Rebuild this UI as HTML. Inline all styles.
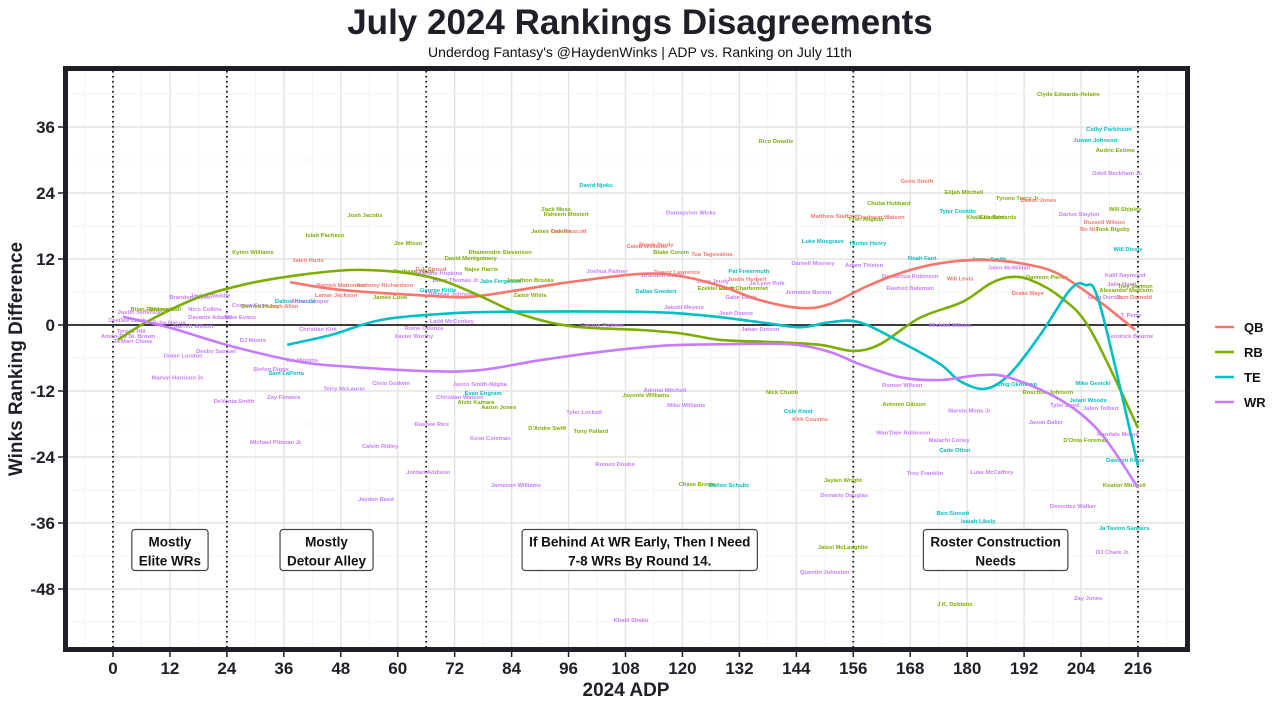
<!DOCTYPE html>
<html><head><meta charset="utf-8"><style>
body{margin:0;background:#fff;font-family:"Liberation Sans",sans-serif;}
svg text{font-family:"Liberation Sans",sans-serif;}
</style></head><body>
<svg id="chart" width="1280" height="707" viewBox="0 0 1280 707" xmlns="http://www.w3.org/2000/svg">
<text x="640" y="34" text-anchor="middle" font-size="35" font-weight="bold" fill="#1f1f2a">July 2024 Rankings Disagreements</text>
<text x="640" y="57" text-anchor="middle" font-size="14" fill="#111">Underdog Fantasy's @HaydenWinks | ADP vs. Ranking on July 11th</text>
<g id="grid"></g>
<g id="vlines"></g>
<g id="labels"></g>
<g id="curves"></g>
<g id="boxes"></g>
<rect x="65.5" y="68.5" width="1122" height="581" fill="none" stroke="#1f1f2a" stroke-width="5"/>
<g id="axes"></g>
<text x="626" y="696" text-anchor="middle" font-size="19" font-weight="bold" fill="#1f1f2a">2024 ADP</text>
<text transform="translate(22,359) rotate(-90)" text-anchor="middle" font-size="19" font-weight="bold" fill="#1f1f2a">Winks Ranking Difference</text>
<g id="legend"></g>
</svg>
<script>
const xTicks=[0,12,24,36,48,60,72,84,96,108,120,132,144,156,168,180,192,204,216];
const yTicks=[36,24,12,0,-12,-24,-36,-48];
const tierLines=[0,24,66,156,216];
const positions=["QB","RB","TE","WR"];
const colors={QB:"#F8766D",RB:"#7CAE00",TE:"#00BFC4",WR:"#C77CFF"};
const qbCurve=[[37.3,7.8],[47.8,6.4],[66.8,5.3],[75.2,5.1],[85.8,6.4],[96.3,7.8],[111,9.3],[119.5,8.9],[128,7.1],[136.4,4.5],[144.8,3.1],[151,3.8],[159.5,7.3],[168,10],[176.4,11.5],[184.8,11.8],[193.3,10.9],[199.6,9.1],[208,4.2],[215.4,-0.9]];
const rbCurve=[[1,-2.7],[7.8,0.9],[18.3,5.1],[28.9,7.6],[39.4,9.1],[50,10],[60.5,9.6],[69,8.2],[77.3,5.3],[85.8,2],[96.3,-0.2],[111,-0.9],[119.5,-1.5],[128,-2.7],[139,-3.1],[149,-3.6],[155.9,-4.7],[161.6,-3.5],[170,1.3],[179,4.2],[184.8,7.5],[189,8.7],[193.3,8.2],[199.6,5.1],[206,-0.9],[216,-18.7]];
const teCurve=[[36.7,-3.6],[46,-1.8],[56.3,0.9],[69,2],[81.6,2.4],[111,2.4],[123.7,1.8],[136.4,0.5],[144.8,-0.4],[151,0.5],[157.3,0.5],[166,-3.1],[174.3,-7.1],[178.5,-10.2],[183.8,-11.6],[189,-8.9],[195.4,-1.8],[201.7,6.4],[204.8,7.3],[208,3.6],[216,-25.6]];
const wrCurve=[[2.1,1.5],[12,-0.5],[24.7,-3.8],[39.4,-6.7],[50,-7.6],[66.8,-8.4],[77.3,-8.2],[90,-6.4],[102.6,-4.9],[115.3,-3.8],[128,-3.5],[142.7,-3.5],[151,-4.9],[157.3,-7.1],[166,-9.5],[174.3,-10],[183,-9.1],[189,-9.6],[199.6,-13.6],[208,-19.5],[216,-29.6]];
const players=[
["Clyde Edwards-Helaire","RB",201.3,42],["Rico Dowdle","RB",139.7,33.5],["Colby Parkinson","TE",209.9,35.6],["Juwan Johnson","TE",207,33.6],["Audric Estime","RB",211.2,31.8],["Odell Beckham Jr.","WR",211.6,27.6],
["David Njoku","TE",101.8,25.5],["Geno Smith","QB",169.4,26.2],["Elijah Mitchell","RB",179.3,24.2],["Tyrone Tracy Jr.","RB",190.7,23.1],["Daniel Jones","QB",195,22.7],["Chuba Hubbard","RB",163.5,22.2],["Tyler Conklin","TE",178,20.7],["Will Shipley","RB",213.3,21.1],
["Zack Moss","RB",93.4,21.1],["Raheem Mostert","RB",95.5,20.2],["Josh Jacobs","RB",53.1,20],["Dontayvion Wicks","WR",121.8,20.5],["Matthew Stafford","QB",152,19.8],["Deshaun Watson","QB",161.9,19.6],["Tyler Allgeier","RB",158.7,19.3],["Khalil Herbert","RB",183.8,19.6],["Gus Edwards","RB",186.5,19.6],["Darius Slayton","WR",203.6,20.2],["Russell Wilson","QB",208.9,18.7],["Bo Nix","QB",205.7,17.5],["Tank Bigsby","RB",210.7,17.5],
["James Conner","RB",92.3,17.1],["Dak Prescott","QB",96.1,17.1],["Isiah Pacheco","RB",44.7,16.4],["Luke Musgrave","TE",149.6,15.3],["Hunter Henry","TE",159.1,14.9],["Caleb Williams","QB",112.5,14.4],["Brock Purdy","QB",114.5,14.6],["Joe Mixon","RB",62.2,14.9],["Kyren Williams","RB",29.5,13.3],["Blake Corum","RB",117.6,13.3],["Tua Tagovailoa","QB",126.2,12.9],["Rhamondre Stevenson","RB",81.6,13.3],["Will Dissly","TE",213.9,13.8],
["David Montgomery","RB",75.4,12.2],["Jalen Hurts","QB",41.1,11.8],["Noah Fant","TE",170.5,12.2],["Darnell Mooney","WR",147.5,11.3],["Adam Thielen","WR",158.3,10.9],["Jonnu Smith","TE",184.6,12],["Jalen McMillian","WR",188.8,10.5],["Najee Harris","RB",77.6,10.2],["Rachaad White","RB",63.4,9.8],["DeAndre Hopkins","WR",68.5,9.5],["C.J. Stroud","QB",67,10.2],["Joshua Palmer","WR",104.1,9.8],["Trevor Lawrence","QB",118.9,9.6],["Pat Freiermuth","TE",134,9.8],["Demarcus Robinson","WR",168,8.9],["Will Levis","QB",178.5,8.5],["Dameon Pierce","RB",196.8,8.7],["Kalif Raymond","WR",213.3,9.1],
["Brian Thomas Jr.","WR",72.3,8.2],["Brandon Cooks","WR",115.9,9.1],["Jake Ferguson","TE",81.6,8],["Jonathon Brooks","RB",87.9,8.2],["Justin Herbert","QB",133.6,8.4],["Ja'Lynn Polk","WR",137.8,7.6],["Jalin Hyatt","WR",212.6,7.5],["Trey Sermon","RB",215.4,7.1],["Alexander Mattison","RB",213.5,6.4],["Jerry Jeudy","WR",126.4,8],["Ezekiel Elliott","RB",127.1,6.7],["Zach Charbonnet","RB",133,6.7],["Patrick Mahomes","QB",48,7.3],["Anthony Richardson","QB",57.3,7.3],["Rashod Bateman","WR",168,6.7],["Jermaine Burton","WR",146.5,6],
["Lamar Jackson","QB",47,5.5],["George Kittle","TE",68.5,6.4],["Diontae Johnson","WR",71.4,5.6],["Zamir White","RB",87.9,5.5],["Dallas Goedert","TE",114.4,6.2],["Gabe Davis","WR",132.4,5.1],["Drake Maye","QB",192.8,5.8],["Brandon Aiyuk","WR",16.2,5.1],["Jaylen Waddle","WR",20.5,5.4],["James Cook","RB",58.4,5.1],["Greg Dortch","WR",209,5.1],["Sam Darnold","QB",215.2,5.1],
["Cooper Kupp","WR",28.9,3.6],["Derrick Henry","RB",31,3.5],["Josh Allen","QB",36,3.5],["Dalton Kincaid","TE",38.4,4.4],["Amari Cooper","WR",41.5,4.4],["Jakobi Meyers","WR",120.3,3.3],["Josh Downs","WR",131.3,2.2],["Bijan Robinson","RB",8.2,2.9],["Breece Hall","RB",11,2.9],["Justin Jefferson","WR",5.7,2.4],["Nico Collins","WR",19.4,2.9],["A.T. Perry","WR",213.9,1.8],["Davante Adams","WR",20.4,1.5],["Mike Evans","WR",26.8,1.5],["CeeDee Lamb","WR",3,0.9],["Ladd McConkey","WR",71.4,0.7],["Puka Nacua","WR",11.8,0.5],["Garrett Wilson","WR",16.9,-0.2],
["Kendrick Bourne","WR",214.3,-2],["Tyreek Hill","WR",3.8,-1.1],["Christian Kirk","WR",43.2,-0.7],["Rome Odunze","WR",65.5,-0.5],["Xavier Worthy","WR",63.4,-2],["George Pickens","WR",103.1,0],["Jahan Dotson","WR",136.4,-0.7],["Michael Wilson","WR",176.4,0],["Amon-Ra St. Brown","WR",3.2,-2],["Ja'Marr Chase","WR",4.2,-2.9],["DJ Moore","WR",29.5,-2.7],["Deebo Samuel","WR",21.7,-4.7],["Drake London","WR",14.8,-5.5],["Tee Higgins","WR",39.8,-6.4],["Stefon Diggs","WR",33.3,-8],["Sam LaPorta","TE",36.5,-8.7],["Marvin Harrison Jr.","WR",13.7,-9.5],
["Roman Wilson","WR",166.3,-10.9],["Chris Godwin","WR",58.6,-10.5],["Jaxon Smith-Njigba","WR",77.3,-10.7],["Adonai Mitchell","WR",116.3,-11.8],["Chig Okonkwo","TE",190.5,-10.7],["Mike Gesicki","TE",206.5,-10.5],["Terry McLaurin","WR",48.7,-11.5],["Evan Engram","TE",78,-12.4],["Nick Chubb","RB",141,-12.2],["Javonte Williams","RB",112.3,-12.7],["Christian Watson","WR",73.1,-13.1],["Roschon Johnson","RB",197,-12.2],["Jelani Woods","TE",205.5,-13.6],["Tyler Boyd","WR",200.6,-14.5],["Antonio Gibson","RB",166.7,-14.4],["Alvin Kamara","RB",76.5,-14],["Zay Flowers","WR",36,-13.1],["DeVonta Smith","WR",25.5,-13.8],["Aaron Jones","RB",81.3,-14.9],["Jalen Tolbert","WR",208.2,-15.1],["Mike Williams","WR",120.8,-14.5],["Marvin Mims Jr.","WR",180.6,-15.5],["Cole Kmet","TE",144.4,-15.6],["Tyler Lockett","WR",99.3,-15.8],["Kirk Cousins","QB",146.9,-17.1],
["Rashee Rice","WR",67.2,-18],["Javon Baker","WR",196.6,-17.6],["D'Andre Swift","RB",91.5,-18.7],["Tony Pollard","RB",100.7,-19.3],["Wan'Dale Robinson","WR",166.5,-19.5],["Rondale Moore","WR",211.8,-19.8],["Keon Coleman","WR",79.5,-20.5],["Michael Pittman Jr.","WR",34.4,-21.3],["Malachi Corley","WR",176.2,-20.9],["D'Onta Foreman","RB",205,-20.9],["Calvin Ridley","WR",56.3,-22],["Cade Otton","TE",177.4,-22.7],["Dawson Knox","TE",213.3,-24.5],["Romeo Doubs","WR",105.8,-25.3],["Jordan Addison","WR",66.4,-26.7],["Troy Franklin","WR",171.1,-26.9],["Luke McCaffrey","WR",185.2,-26.7],
["Chase Brown","RB",123.1,-28.9],["Dalton Schultz","TE",129.8,-29.1],["Jameson Williams","WR",84.9,-29.1],["Jaylen Wright","RB",153.8,-28.2],["Keaton Mitchell","RB",213.1,-29.1],["Demario Douglas","WR",154.1,-30.9],["Jayden Reed","WR",55.4,-31.6],["Devontez Walker","WR",202.3,-32.9],["Ben Sinnott","TE",177,-34.2],["Isaiah Likely","TE",182.3,-35.6],["Ja'Tavion Sanders","TE",213.1,-36.9],["Jaleel McLaughlin","RB",153.8,-40.4],["DJ Chark Jr.","WR",210.7,-41.3],["Quentin Johnston","WR",150,-44.9],["J.K. Dobbins","RB",177.4,-50.7],["Zay Jones","WR",205.5,-49.6],["Khalil Shakir","WR",109.2,-53.6]];
const notes=[["Mostly|Elite WRs",12,-41],["Mostly|Detour Alley",45,-41],["If Behind At WR Early, Then I Need|7-8 WRs By Round 14.",111,-41],["Roster Construction|Needs",186,-41]];

const NS="http://www.w3.org/2000/svg";
const X0=113,XS=1025/216,Y0=325,YS=5.5,PL=68,PR=1185,PT=71,PB=647;
const sx=v=>X0+v*XS, sy=v=>Y0-v*YS;
function mk(tag,attrs,parent){const e=document.createElementNS(NS,tag);for(const k in attrs)e.setAttribute(k,attrs[k]);parent.appendChild(e);return e;}
const grid=document.getElementById('grid');
mk('rect',{x:PL,y:PT,width:PR-PL,height:PB-PT,fill:'#fff'},grid);
for(let v=-12;v<=228;v+=6){const x=sx(v);if(x<PL||x>PR)continue;const l=mk('line',{x1:x,x2:x,y1:PT,y2:PB,stroke:v%12===0?'#e3e3e3':'#f0f0f0','stroke-width':v%12===0?1.4:0.8},grid);

}
for(let v=-60;v<=48;v+=6){const y=sy(v);if(y<PT||y>PB)continue;const l=mk('line',{x1:PL,x2:PR,y1:y,y2:y,stroke:v%12===0?'#e3e3e3':'#f0f0f0','stroke-width':v%12===0?1.4:0.8},grid);

}
const zl=mk('line',{x1:PL,x2:PR,y1:sy(0),y2:sy(0),stroke:'#000','stroke-width':1.6},grid);


const vl=document.getElementById('vlines');
tierLines.forEach(v=>{const l=mk('line',{x1:sx(v),x2:sx(v),y1:PT,y2:PB,stroke:'#111','stroke-width':1.8,'stroke-dasharray':'1.5 3.5'},vl);

});
const lab=document.getElementById('labels');
players.forEach(p=>{const t=mk('text',{x:sx(p[2]),y:sy(p[3])+2,'text-anchor':'middle','font-size':5.8,'font-weight':'bold',fill:colors[p[1]]},lab);t.textContent=p[0];

});
function pathFrom(pts){const P=pts.map(p=>[sx(p[0]),sy(p[1])]);let d='M'+P[0][0].toFixed(1)+','+P[0][1].toFixed(1);
for(let i=0;i<P.length-1;i++){const p0=P[i-1]||P[i],p1=P[i],p2=P[i+1],p3=P[i+2]||p2;
d+=' C'+(p1[0]+(p2[0]-p0[0])/6).toFixed(1)+','+(p1[1]+(p2[1]-p0[1])/6).toFixed(1)+' '+(p2[0]-(p3[0]-p1[0])/6).toFixed(1)+','+(p2[1]-(p3[1]-p1[1])/6).toFixed(1)+' '+p2[0].toFixed(1)+','+p2[1].toFixed(1);}return d;}
const cv=document.getElementById('curves');
[["QB",qbCurve],["RB",rbCurve],["TE",teCurve],["WR",wrCurve]].forEach(([k,pts])=>{const p=mk('path',{d:pathFrom(pts),fill:'none',stroke:colors[k],'stroke-width':2.6},cv);

});
const bx=document.getElementById('boxes');
notes.forEach(n=>{const lines=n[0].split('|');const cx=sx(n[1]),cy=sy(n[2]);
const g=mk('g',{},bx);


const t1=mk('text',{x:cx,y:cy-4,'text-anchor':'middle','font-size':13.5,'font-weight':'bold',fill:'#111'},g);t1.textContent=lines[0];
const t2=mk('text',{x:cx,y:cy+15,'text-anchor':'middle','font-size':13.5,'font-weight':'bold',fill:'#111'},g);t2.textContent=lines[1];
const w=Math.max(t1.getComputedTextLength(),t2.getComputedTextLength())+14;
const r=mk('rect',{x:cx-w/2,y:cy-21,width:w,height:41,rx:3,fill:'#fff',stroke:'#444','stroke-width':1.2},g);g.insertBefore(r,t1);});
const ax=document.getElementById('axes');
xTicks.forEach(v=>{mk('line',{x1:sx(v),x2:sx(v),y1:652,y2:657,stroke:'#1f1f2a','stroke-width':1.5},ax);
const t=mk('text',{x:sx(v),y:674,'text-anchor':'middle','font-size':17,'font-weight':'bold',fill:'#1f1f2a'},ax);t.textContent=v;

});
yTicks.forEach(v=>{mk('line',{x1:58,x2:63,y1:sy(v),y2:sy(v),stroke:'#1f1f2a','stroke-width':1.5},ax);
const t=mk('text',{x:55,y:sy(v)+6,'text-anchor':'end','font-size':17,'font-weight':'bold',fill:'#1f1f2a'},ax);t.textContent=v;

});
const lg=document.getElementById('legend');
positions.forEach((k,i)=>{const y=327+i*25;const g=mk('g',{},lg);


mk('line',{x1:1215,x2:1234,y1:y,y2:y,stroke:colors[k],'stroke-width':2.5},g);
const t=mk('text',{x:1244,y:y+5,'font-size':13,'font-weight':'bold',fill:'#111'},g);t.textContent=k;});
</script>
</body></html>
